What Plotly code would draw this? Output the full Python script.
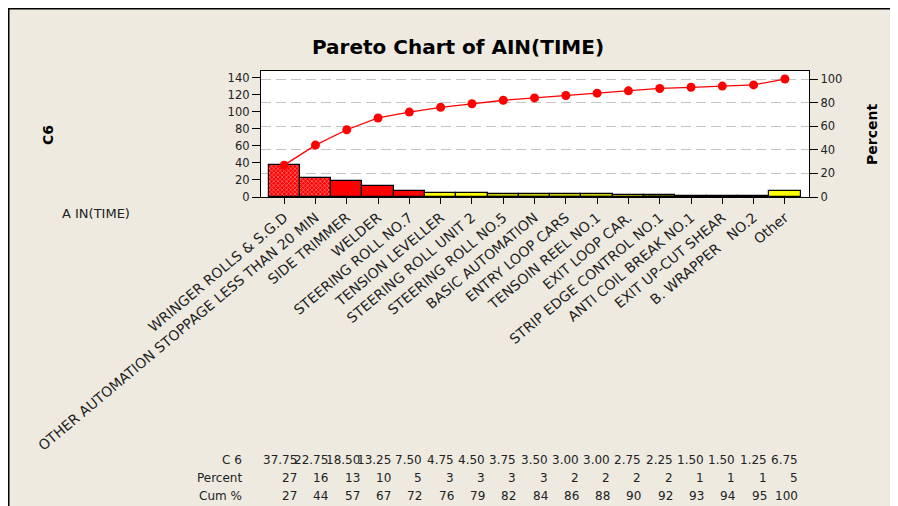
import plotly.graph_objects as go

categories = [
    "WRINGER ROLLS & S.G.D",
    "OTHER AUTOMATION STOPPAGE LESS THAN 20 MIN",
    "SIDE TRIMMER",
    "WELDER",
    "STEERING ROLL NO.7",
    "TENSION LEVELLER",
    "STEERING ROLL UNIT 2",
    "STEERING ROLL NO.5",
    "BASIC AUTOMATION",
    "ENTRY LOOP CARS",
    "TENSOIN REEL NO.1",
    "EXIT LOOP CAR.",
    "STRIP EDGE CONTROL NO.1",
    "ANTI COIL BREAK NO.1",
    "EXIT UP-CUT SHEAR",
    "B. WRAPPER\u00a0\u00a0\u00a0NO.2",
    "Other",
]
counts = [37.75, 22.75, 18.50, 13.25, 7.50, 4.75, 4.50, 3.75, 3.50, 3.00, 3.00, 2.75, 2.25, 1.50, 1.50, 1.25, 6.75]
count_labels = ["37.75", "22.75", "18.50", "13.25", "7.50", "4.75", "4.50", "3.75", "3.50", "3.00",
                "3.00", "2.75", "2.25", "1.50", "1.50", "1.25", "6.75"]
percent = [27, 16, 13, 10, 5, 3, 3, 3, 3, 2, 2, 2, 2, 1, 1, 1, 5]
cum_percent = [27, 44, 57, 67, 72, 76, 79, 82, 84, 86, 88, 90, 92, 93, 94, 95, 100]
bar_colors = ["#FF0000"] * 5 + ["#FFFF00"] * 2 + ["#C8C800"] * 5 + ["#6E6E00"] * 4 + ["#FFFF00"]
bar_patterns = ["x", "x"] + [""] * 15
left_ticks = [0, 20, 40, 60, 80, 100, 120, 140]
right_ticks = [0, 20, 40, 60, 80, 100]
row_labels = ["C 6", "Percent", "Cum %"]

# figure sits at an 8px page offset; coordinates below are figure pixels
W, H = 890, 498
L, R, T, B = 253, 89, 63, 309
PW, PH = W - L - R, H - T - B


def px_x(px):
    return (px - L) / PW


def px_y(py):
    return (H - B - py) / PH


BEIGE = "#EEEAE0"
FONT = "DejaVu Sans"

fig = go.Figure()
fig.add_trace(go.Bar(
    x=categories, y=counts,
    marker=dict(color=bar_colors, line=dict(color="black", width=1.2),
                pattern=dict(shape=bar_patterns, fgcolor="#8A0000", size=3, solidity=0.4,
                             fillmode="overlay")),
    width=1.0, yaxis="y", showlegend=False,
))
fig.add_trace(go.Scatter(
    x=categories, y=cum_percent, yaxis="y2", mode="lines+markers",
    line=dict(color="#FF0000", width=1.3),
    marker=dict(color="#FF0000", size=9),
    showlegend=False,
))

shapes = [
    dict(type="rect", xref="paper", yref="paper", layer="below",
         x0=px_x(0.75), x1=px_x(885), y0=px_y(520), y1=px_y(0.75),
         fillcolor=BEIGE, line=dict(color="black", width=1.5)),
    dict(type="rect", xref="paper", yref="paper", layer="below",
         x0=0, x1=1, y0=0, y1=1, fillcolor="white", line=dict(width=0)),
]

annotations = []
annotations.append(dict(text="<b>C6</b>", xref="paper", yref="paper", x=px_x(40), y=px_y(127),
                        textangle=-90, showarrow=False, font=dict(family=FONT, size=14, color="black"),
                        xanchor="center", yanchor="middle"))
annotations.append(dict(text="<b>Percent</b>", xref="paper", yref="paper", x=px_x(864), y=px_y(127),
                        textangle=-90, showarrow=False, font=dict(family=FONT, size=14, color="black"),
                        xanchor="center", yanchor="middle"))
annotations.append(dict(text="A IN(TIME)", xref="paper", yref="paper", x=px_x(52), y=px_y(205),
                        showarrow=False, font=dict(family=FONT, size=13, color="#222"),
                        xanchor="left", yanchor="middle"))

row_y = [452, 469.5, 487.5]
rows = [count_labels, [str(p) for p in percent], [str(c) for c in cum_percent]]
for lab, yy, vals in zip(row_labels, row_y, rows):
    annotations.append(dict(text=lab, xref="paper", yref="paper", x=px_x(236), y=px_y(yy),
                            showarrow=False, font=dict(family=FONT, size=12, color="#222"),
                            xanchor="right", yanchor="middle"))
    for i, v in enumerate(vals):
        annotations.append(dict(text=v, xref="x", yref="paper", x=i + 0.48, y=px_y(yy),
                                showarrow=False, font=dict(family=FONT, size=12, color="#222"),
                                xanchor="right", yanchor="middle"))

fig.update_layout(
    width=W, height=H,
    margin=dict(l=L, r=R, t=T, b=B, autoexpand=False),
    paper_bgcolor="white", plot_bgcolor="rgba(0,0,0,0)",
    title=dict(text="<b>Pareto Chart of AIN(TIME)</b>", x=450 / W, xref="container", xanchor="center",
               y=1 - 39 / H, yref="container", yanchor="middle",
               font=dict(family=FONT, size=20, color="black")),
    bargap=0,
    xaxis=dict(type="category", range=[-0.74, 16.77], showline=True, mirror=True, linecolor="black",
               linewidth=1.3, ticks="outside", ticklen=6, tickcolor="black", tickangle=-40,
               tickfont=dict(family=FONT, size=14, color="#222"), showgrid=False, automargin=False),
    yaxis=dict(range=[0, 147.6], tickvals=left_ticks, showline=True, linecolor="black", linewidth=1.3,
               ticks="outside", ticklen=8, tickcolor="black", showgrid=False, zeroline=False,
               tickfont=dict(family=FONT, size=11.5, color="#222"), automargin=False),
    yaxis2=dict(range=[0, 106.8], tickvals=right_ticks, overlaying="y", side="right", showline=True,
                linecolor="black", linewidth=1.3, ticks="outside", ticklen=8, tickcolor="black",
                showgrid=True, gridcolor="#C4C4C4", griddash="10px,5px", gridwidth=1, zeroline=False,
                tickfont=dict(family=FONT, size=11.5, color="#222"), automargin=False),
    shapes=shapes,
    annotations=annotations,
)

fig.write_html("out.html")
